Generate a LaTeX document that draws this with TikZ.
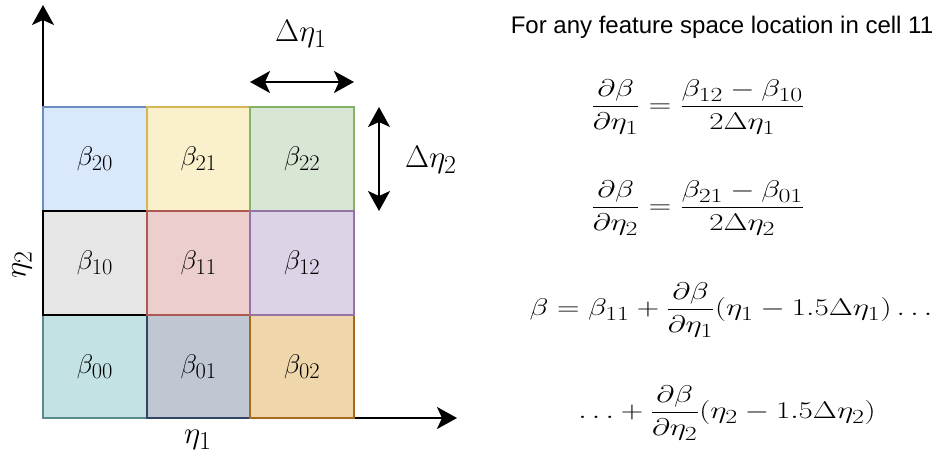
\documentclass[tikz,border=0pt]{standalone}
\usepackage{fontspec}
\usepackage{amsmath}
\usepackage{graphicx}
\newfontfamily\arialf{Liberation Sans}
\usetikzlibrary{arrows.meta}
\DeclareMathSizes{20.74}{20.74}{17.28}{14.4}
\definecolor{f20}{HTML}{DAE8FC}\definecolor{d20}{HTML}{6C8EBF}
\definecolor{f21}{HTML}{FAF1CC}\definecolor{d21}{HTML}{D6B656}
\definecolor{f22}{HTML}{D8E6D4}\definecolor{d22}{HTML}{82B366}
\definecolor{f10}{HTML}{E6E6E6}\definecolor{d10}{HTML}{000000}
\definecolor{f11}{HTML}{ECCFCC}\definecolor{d11}{HTML}{AE5A52}
\definecolor{f12}{HTML}{DDD3E6}\definecolor{d12}{HTML}{9673A6}
\definecolor{f00}{HTML}{C3E2E3}\definecolor{d00}{HTML}{5A8A8E}
\definecolor{f01}{HTML}{C0C7D3}\definecolor{d01}{HTML}{2F4560}
\definecolor{f02}{HTML}{EFD7AB}\definecolor{d02}{HTML}{A56A1B}
\newcommand{\bigmath}[3]{\scalebox{#1}[#2]{\fontsize{20.74}{24}\selectfont$\displaystyle #3$}}
\begin{document}
\begin{tikzpicture}[x=1pt,y=-1pt,
  cellbox/.style={draw=d#1,fill=f#1,line width=2pt,minimum width=103.7pt,minimum height=103.7pt,inner sep=0pt},
  arr/.style={line width=2pt,-{Stealth[length=20pt,width=22pt,inset=5pt]}},
  darr/.style={line width=2pt,{Stealth[length=20pt,width=22pt,inset=5pt]}-{Stealth[length=20pt,width=22pt,inset=5pt]}},
  lbl/.style={inner sep=0pt},
  eq/.style={inner sep=0pt}]
\useasboundingbox (0,0) rectangle (937,461);
\coordinate (origin) at (43,418);
\coordinate (ytip) at (43,5);
\coordinate (xtip) at (457,418);
\draw[arr] (origin) -- (ytip);
\draw[arr] (origin) -- (xtip);
\node[cellbox=20] (c20) at (95,159) {\bigmath{1.3}{1.3}{\beta_{20}}};
\node[cellbox=21] (c21) at (198.7,159) {\bigmath{1.3}{1.3}{\beta_{21}}};
\node[cellbox=22] (c22) at (302.3,159) {\bigmath{1.3}{1.3}{\beta_{22}}};
\node[cellbox=00] (c00) at (95,366.3) {\bigmath{1.3}{1.3}{\beta_{00}}};
\node[cellbox=01] (c01) at (198.7,366.3) {\bigmath{1.3}{1.3}{\beta_{01}}};
\node[cellbox=02] (c02) at (302.3,366.3) {\bigmath{1.3}{1.3}{\beta_{02}}};
\node[cellbox=10] (c10) at (95,262.7) {\bigmath{1.3}{1.3}{\beta_{10}}};
\node[cellbox=11] (c11) at (198.7,262.7) {\bigmath{1.3}{1.3}{\beta_{11}}};
\node[cellbox=12] (c12) at (302.3,262.7) {\bigmath{1.3}{1.3}{\beta_{12}}};
\coordinate (d1l) at (250,82);
\coordinate (d1r) at (354,82);
\draw[darr] (d1l) -- (d1r);
\coordinate (d2t) at (379,107);
\coordinate (d2b) at (379,211);
\draw[darr] (d2t) -- (d2b);
\node[lbl] (l1) at (301,34) {\bigmath{1.5}{1.5}{\Delta\eta_1}};
\node[lbl] (l2) at (431,160) {\bigmath{1.5}{1.5}{\Delta\eta_2}};
\node[lbl,rotate=90] (ly) at (22,265) {\bigmath{1.5}{1.5}{\eta_2}};
\node[lbl] (lx) at (198,440) {\bigmath{1.5}{1.5}{\eta_1}};
\node[inner sep=0pt,font=\arialf\fontsize{24}{28}\selectfont] (title) at (722,27) {For any feature space location in cell 11};
\node[eq] (e1) at (698,107) {\bigmath{1.5}{1.16}{\frac{\partial\beta}{\partial\eta_1}=\frac{\beta_{12}-\beta_{10}}{2\Delta\eta_1}}};
\node[eq] (e2) at (698,208) {\bigmath{1.5}{1.16}{\frac{\partial\beta}{\partial\eta_2}=\frac{\beta_{21}-\beta_{01}}{2\Delta\eta_2}}};
\node[eq] (e3) at (731,310) {\bigmath{1.5}{1.16}{\beta=\beta_{11}+\frac{\partial\beta}{\partial\eta_1}(\eta_1-1.5\Delta\eta_1)\ldots}};
\node[eq] (e4) at (727,413) {\bigmath{1.5}{1.16}{\ldots+\frac{\partial\beta}{\partial\eta_2}(\eta_2-1.5\Delta\eta_2)}};
\end{tikzpicture}
\end{document}
